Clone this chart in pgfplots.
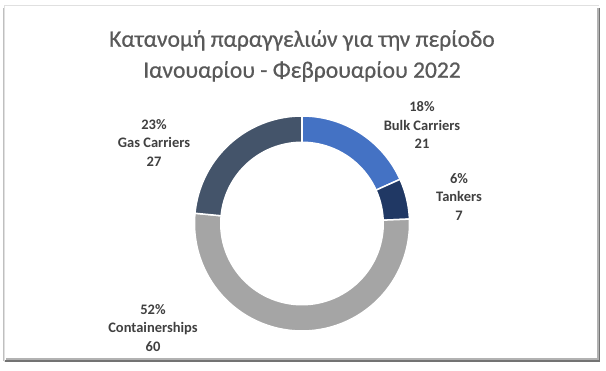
\documentclass[border=0pt]{standalone}
\usepackage{fontspec}
\setmainfont{Carlito}
\usepackage{pgfplots}
\pgfplotsset{compat=1.18}
\definecolor{cBulk}{HTML}{4472C4}
\definecolor{cTank}{HTML}{203864}
\definecolor{cCont}{HTML}{A5A5A5}
\definecolor{cGas}{HTML}{44546A}
\definecolor{titlegray}{HTML}{595959}
\definecolor{labelgray}{HTML}{404040}
% data
\def\vBulk{21}
\def\vTank{7}
\def\vCont{60}
\def\vGas{27}
\pgfmathsetmacro\tot{\vBulk+\vTank+\vCont+\vGas}
\pgfmathsetmacro\aA{90}
\pgfmathsetmacro\aB{\aA-360*(\vBulk/\tot)}
\pgfmathsetmacro\aC{\aB-360*(\vTank/\tot)}
\pgfmathsetmacro\aD{\aC-360*(\vCont/\tot)}
\pgfmathsetmacro\aE{\aD-360*(\vGas/\tot)}
\def\cx{302}
\def\cy{223.5}
\def\ro{107.5}
\def\ri{82}
\begin{document}
\begin{tikzpicture}
\useasboundingbox (0,0) rectangle (606pt,371pt);
\begin{axis}[at={(0,0)}, anchor=south west, scale only axis,
  width=606pt, height=371pt, xmin=0, xmax=606, ymin=0, ymax=371,
  y dir=reverse, hide axis, clip=false]
% frame
\draw[black!12, line width=1pt] (4,362) -- (4,6) -- (599,6);
\draw[black!25, line width=1pt] (3.5,361) -- (3.5,8);
\draw[black!30, line width=3pt] (598.5,8) -- (598.5,361);
\draw[black!55, line width=1.2pt] (599.5,8) -- (599.5,362);
\draw[black!30, line width=3pt] (6,359.5) -- (599,359.5);
\draw[black!55, line width=1.2pt] (5,361) -- (600,361);
% donut segments
\addplot[fill=cBulk, draw=white, line width=1.5pt, domain=\aB:\aA, samples=60, variable=\t]
  ({\cx+\ro*cos(\t)},{\cy-\ro*sin(\t)}) -- (\cx,\cy) -- cycle;
\addplot[fill=cTank, draw=white, line width=1.5pt, domain=\aC:\aB, samples=30, variable=\t]
  ({\cx+\ro*cos(\t)},{\cy-\ro*sin(\t)}) -- (\cx,\cy) -- cycle;
\addplot[fill=cCont, draw=white, line width=1.5pt, domain=\aD:\aC, samples=120, variable=\t]
  ({\cx+\ro*cos(\t)},{\cy-\ro*sin(\t)}) -- (\cx,\cy) -- cycle;
\addplot[fill=cGas, draw=white, line width=1.5pt, domain=\aE:\aD, samples=60, variable=\t]
  ({\cx+\ro*cos(\t)},{\cy-\ro*sin(\t)}) -- (\cx,\cy) -- cycle;
\addplot[fill=white, draw=none, domain=0:360, samples=120, variable=\t]
  ({\cx+\ri*cos(\t)},{\cy-\ri*sin(\t)}) -- cycle;
% title
\node[text=titlegray, align=center, font=\fontsize{23.5}{31}\selectfont\addfontfeature{FakeBold=0.7}] at (302,56)
  {Κατανομή παραγγελιών για την περίοδο\\Ιανουαρίου - Φεβρουαρίου 2022};
% labels
\begin{scope}[every node/.style={text=labelgray, align=center, font=\bfseries\fontsize{14.5}{18.5}\selectfont}]
\node at (422,125) {18\%\\Bulk Carriers\\21};
\node at (459,197) {6\%\\Tankers\\7};
\node at (154,143) {23\%\\Gas Carriers\\27};
\node at (153,328) {52\%\\Containerships\\60};
\end{scope}
\end{axis}
\end{tikzpicture}
\end{document}
